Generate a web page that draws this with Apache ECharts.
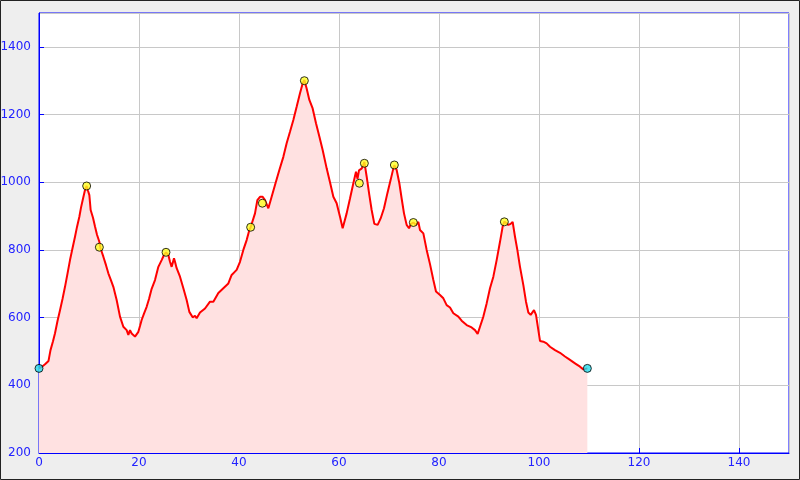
<!DOCTYPE html>
<html><head><meta charset="utf-8">
<script src="https://cdn.jsdelivr.net/npm/echarts@6/dist/echarts.min.js"></script>
<style>html,body{margin:0;padding:0;background:#eeeeee}#c{width:800px;height:480px}</style>
</head><body><div id="c"></div>
<script>
const distKm = [0,0.6,1.2,1.9,2.3,2.8,3.2,3.7,4.2,4.7,5.2,5.7,6.2,6.7,7.2,7.6,8.07,8.4,8.73,9.2,9.53,9.8,10.07,10.33,10.8,11.2,11.6,12.07,12.3,12.87,13.4,13.87,14.4,14.87,15.53,16.2,16.87,17.2,17.53,17.87,18.2,18.53,18.9,19.2,19.87,20.2,20.53,21.0,21.53,22.0,22.53,23.2,23.87,24.53,25.0,25.4,25.87,26.2,26.53,27.0,27.2,27.53,28.2,28.87,29.53,30.07,30.73,31.2,31.53,32.2,33.2,34.2,34.87,35.87,36.87,37.87,38.53,39.53,40.2,40.87,41.53,42.07,42.33,43.2,43.67,44.2,44.5,44.73,45.2,45.87,46.53,47.2,48.07,48.87,49.53,50.2,50.87,51.53,52.2,52.73,53.07,53.53,54.07,54.73,55.4,56.07,56.73,57.53,58.2,58.87,59.53,60.2,60.73,61.53,62.2,62.87,63.4,63.7,64.0,64.2,64.5,64.73,65.07,65.53,66.07,66.53,67.07,67.73,68.33,69.0,69.67,70.33,70.87,71.07,71.53,72.07,72.53,73.0,73.53,74.0,74.4,74.87,75.4,75.87,76.2,76.87,77.53,78.2,78.87,79.4,80.2,80.87,81.53,82.2,82.87,83.87,84.53,85.53,86.53,87.2,87.73,88.2,88.87,89.53,90.2,90.87,91.53,92.2,92.73,93.07,93.87,94.33,94.73,95.2,95.67,96.2,96.87,97.4,97.87,98.33,99.0,99.4,99.87,100.2,100.87,101.53,102.2,103.2,104.2,105.2,106.2,107.2,108.2,108.87,109.67];
const elevM = [450,455,462,472,504,530,554,590,622,655,691,730,770,805,839,868,898,925,947,977,989,975,962,918,895,869,845,824,805,780,755,731,710,691,652,603,573,568,563,549,563,553,548,544,558,575,593,612,632,655,685,711,750,770,785,793,785,765,750,775,765,746,721,687,652,617,601,605,598,615,627,647,647,673,687,701,726,741,765,800,829,859,867,908,947,957,962,957,947,923,957,992,1036,1075,1115,1149,1184,1223,1263,1292,1302,1277,1243,1218,1174,1135,1095,1041,1000,957,938,898,864,908,952,997,1031,1010,1035,1031,1040,1046,1060,1017,962,918,877,874,893,923,967,1007,1041,1050,1036,997,952,908,874,864,877,881,874,883,859,849,800,758,711,677,667,657,637,630,613,603,591,578,571,563,552,573,603,642,687,721,770,824,869,884,874,877,883,839,800,750,696,647,615,608,622,608,563,531,529,524,514,504,496,485,475,465,455,447,450];
const waypointKm = [9.53,12.07,25.4,42.33,44.67,53.07,64.07,65.07,71.07,74.87,93.07];
const waypointElev = [989,808,793,867,938,1300,997,1056,1051,881,883];
const endpointKm = [0,109.67];
const endpointElev = [450,450];

const chart = echarts.init(document.getElementById('c'), null, {renderer:'canvas'});
const labelBase = {color:'#2222ff',fontFamily:'DejaVu Sans',fontSize:12,showMaxLabel:false,formatter:v=>String(v)};
const axisCommon = {
  axisLine:{show:true,lineStyle:{color:'#0000ff',width:1}},
  axisTick:{show:true,inside:true,length:5,lineStyle:{color:'#0000ff'}},
  splitLine:{show:true,lineStyle:{color:'#c8c8c8',width:1}}
};
chart.setOption({
  backgroundColor:'#eeeeee',
  animation:false,
  graphic:[{type:'rect',shape:{x:0.5,y:0.5,width:799,height:479},style:{fill:null,stroke:'#222',lineWidth:1},silent:true,z:100}],
  grid:{left:39,right:11,top:13,bottom:27,containLabel:false,outerBoundsMode:'none',show:true,backgroundColor:'#ffffff',borderColor:'#0000ff',borderWidth:1},
  xAxis:Object.assign({type:'value',min:0,max:150,interval:20},axisCommon,{axisLabel:Object.assign({},labelBase,{margin:4})}),
  yAxis:Object.assign({type:'value',min:200,max:1500,interval:200},axisCommon,{axisLabel:Object.assign({},labelBase,{margin:8})}),
  series:[
    {type:'line',data:distKm.map((d,i)=>[d,elevM[i]]),showSymbol:false,symbol:'none',
     lineStyle:{color:'#ff0000',width:2},areaStyle:{color:'#ffe1e1',origin:'start',opacity:1},z:2},
    {type:'scatter',data:waypointKm.map((d,i)=>[d,waypointElev[i]]),symbol:'circle',symbolSize:8,
     itemStyle:{color:'#ffff22',borderColor:'#000',borderWidth:1},z:3},
    {type:'scatter',data:endpointKm.map((d,i)=>[d,endpointElev[i]]),symbol:'circle',symbolSize:8,
     itemStyle:{color:'#22ddee',borderColor:'#000',borderWidth:1},z:3}
  ]
});
</script></body></html>
